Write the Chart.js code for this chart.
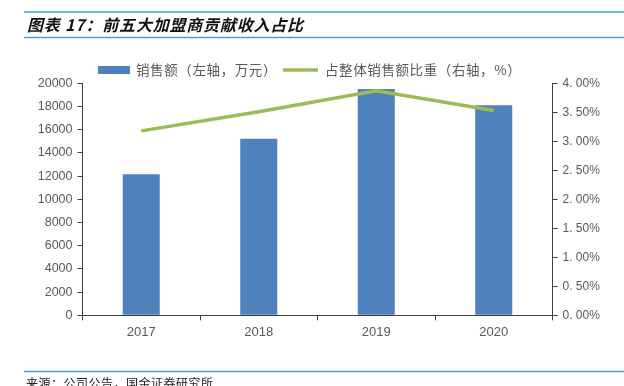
<!DOCTYPE html>
<html>
<head>
<meta charset="utf-8">
<script src="https://cdn.jsdelivr.net/npm/chart.js@4.4.1/dist/chart.umd.min.js"></script>
<style>
  html, body { margin: 0; padding: 0; background: #fff; }
  #wrap { width: 624px; height: 386px; position: relative; }
</style>
</head>
<body>
<div id="wrap"><canvas id="c" width="624" height="386"></canvas></div>
<script>
const categories = ['2017', '2018', '2019', '2020'];
const salesValues = [12170, 15230, 19510, 18110];
const shareValues = [3.18, 3.51, 3.87, 3.53];
const salesLabel = '销售额（左轴，万元）';
const shareLabel = '占整体销售额比重（右轴，%）';
const titleText = '图表 17：前五大加盟商贡献收入占比';
const sourceText = '来源：公司公告，国金证券研究所';

const CJK = '"Noto Sans CJK SC", "Liberation Sans", Arial, sans-serif';
const NUM = '"Liberation Sans", Arial, "Noto Sans CJK SC", sans-serif';
const BLUE = '#4F81BD';
const GREEN = '#9BBB59';
const AXIS = '#404040';
const TXT = '#595959';
const RULE = '#45A1DA';

const decor = {
  id: 'decor',
  afterDraw(chart) {
    const ctx = chart.ctx;
    ctx.save();
    // rules
    ctx.strokeStyle = RULE;
    ctx.lineWidth = 1.5;
    ctx.beginPath();
    ctx.moveTo(24, 12); ctx.lineTo(624, 12);
    ctx.moveTo(24, 37.5); ctx.lineTo(624, 37.5);
    ctx.moveTo(24, 371.5); ctx.lineTo(624, 371.5);
    ctx.stroke();
    // title
    ctx.fillStyle = '#111';
    ctx.font = 'italic bold 16px ' + CJK;
    ctx.textBaseline = 'middle';
    ctx.textAlign = 'left';
    try { ctx.letterSpacing = '0.8px'; } catch (e) {}
    ctx.fillText(titleText, 27, 24.5);
    // source
    try { ctx.letterSpacing = '0.5px'; } catch (e) {}
    ctx.font = '12px ' + CJK;
    ctx.fillStyle = '#222';
    ctx.textBaseline = 'top';
    ctx.fillText(sourceText, 26, 377.5);
    // legend
    const ly = 70;
    ctx.fillStyle = BLUE;
    ctx.fillRect(98, ly - 4, 32, 8);
    ctx.font = '13.5px ' + CJK;
    ctx.fillStyle = TXT;
    ctx.textBaseline = 'middle';
    try { ctx.letterSpacing = '0.6px'; } catch (e) {}
    ctx.fillText(chart.data.datasets[0].label, 136, ly);
    ctx.strokeStyle = GREEN;
    ctx.lineWidth = 3.5;
    ctx.beginPath();
    ctx.moveTo(283, ly); ctx.lineTo(318, ly);
    ctx.stroke();
    ctx.fillText(chart.data.datasets[1].label, 325, ly);
    ctx.restore();
  }
};

new Chart(document.getElementById('c'), {
  type: 'bar',
  data: {
    labels: categories,
    datasets: [
      {
        type: 'bar',
        label: salesLabel,
        data: salesValues,
        backgroundColor: BLUE,
        borderWidth: 0,
        barPercentage: 0.315,
        categoryPercentage: 1,
        yAxisID: 'y',
        order: 2
      },
      {
        type: 'line',
        label: shareLabel,
        data: shareValues,
        borderColor: GREEN,
        backgroundColor: GREEN,
        borderWidth: 3.5,
        pointRadius: 0,
        tension: 0,
        yAxisID: 'y1',
        order: 1
      }
    ]
  },
  options: {
    responsive: false,
    animation: false,
    devicePixelRatio: 1,
    layout: { padding: { top: 83.3, left: 0, right: 0, bottom: 0 } },
    plugins: {
      legend: { display: false },
      title: { display: false },
      tooltip: { enabled: false }
    },
    scales: {
      x: {
        offset: true,
        grid: { display: true, offset: true, drawOnChartArea: false, drawTicks: true, tickLength: 5, color: AXIS },
        border: { display: true, color: AXIS, width: 1 },
        ticks: { color: TXT, font: { family: NUM, size: 13 }, padding: 4 },
        afterFit(s) { s.height = 70.7; }
      },
      y: {
        position: 'left',
        min: 0, max: 20000,
        ticks: { stepSize: 2000, color: TXT, font: { family: NUM, size: 12.5 }, padding: 5,
          callback: v => String(v) },
        grid: { display: true, drawOnChartArea: false, drawTicks: true, tickLength: 5, color: AXIS },
        border: { display: true, color: AXIS, width: 1 },
        afterFit(s) { s.width = 82.5; }
      },
      y1: {
        position: 'right',
        min: 0, max: 4,
        ticks: { stepSize: 0.5, color: TXT, font: { family: NUM, size: 12 }, padding: 5,
          callback: v => Number(v).toFixed(2).replace('.', '. ') + '%' },
        grid: { display: true, drawOnChartArea: false, drawTicks: true, tickLength: 5, color: AXIS },
        border: { display: true, color: AXIS, width: 1 },
        afterFit(s) { s.width = 71.5; }
      }
    }
  },
  plugins: [decor]
});
</script>
</body>
</html>
